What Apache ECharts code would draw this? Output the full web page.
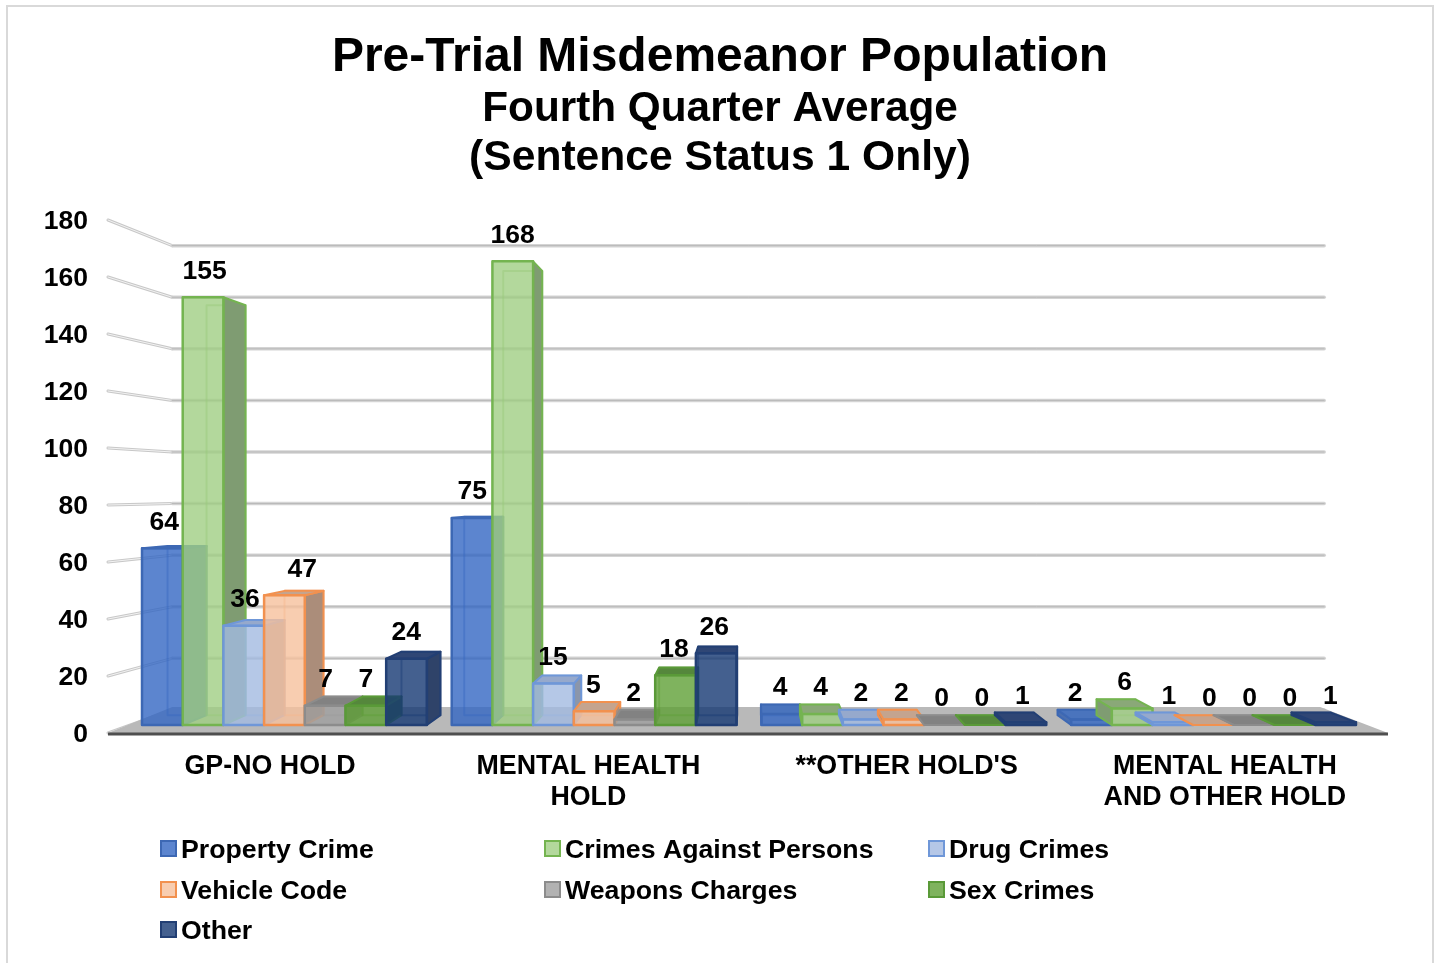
<!DOCTYPE html>
<html>
<head>
<meta charset="utf-8">
<style>html,body{margin:0;padding:0;background:#fff}#c{width:1440px;height:963px}</style>
<script src="https://cdn.jsdelivr.net/npm/echarts@6/dist/echarts.min.js"></script>
</head>
<body>
<div id="c"></div>
<script>
// ---- data ----
const categories = ['GP-NO HOLD', 'MENTAL HEALTH\nHOLD', "**OTHER HOLD'S", 'MENTAL HEALTH\nAND OTHER HOLD'];
const yTicks = [0, 20, 40, 60, 80, 100, 120, 140, 160, 180];
const seriesNames = ['Property Crime', 'Crimes Against Persons', 'Drug Crimes', 'Vehicle Code', 'Weapons Charges', 'Sex Crimes', 'Other'];
const propertyCrime = [64, 75, 4, 2];
const crimesAgainstPersons = [155, 168, 4, 6];
const drugCrimes = [36, 15, 2, 1];
const vehicleCode = [47, 5, 2, 0];
const weaponsCharges = [7, 2, 0, 0];
const sexCrimes = [7, 18, 0, 0];
const other = [24, 26, 1, 1];
const seriesValues = [propertyCrime, crimesAgainstPersons, drugCrimes, vehicleCode, weaponsCharges, sexCrimes, other];

// ---- styles / layout ----
const FONT = '"Liberation Sans", Arial, sans-serif';
const palette = [
  {fill:'rgba(51,102,195,0.8)',  edge:'#3d68b4', side:'#4a6fb0', top:'#4a74bd', key:'#5c85cf'},
  {fill:'rgba(160,206,131,0.8)', edge:'#74b450', side:'#7f9c72', top:'#8aa878', key:'#b3d89c'},
  {fill:'rgba(163,186,225,0.8)', edge:'#6f97d8', side:'#8b96aa', top:'#96a9cc', key:'#b5c7e7'},
  {fill:'rgba(246,192,156,0.8)', edge:'#f2914f', side:'#ab8d7a', top:'#c4a48f', key:'#f8cdb0'},
  {fill:'rgba(159,159,159,0.8)', edge:'#8c8c8c', side:'#808080', top:'#828282', key:'#b2b2b2'},
  {fill:'rgba(95,160,54,0.8)',   edge:'#5a9a38', side:'#4e7a38', top:'#55873c', key:'#7fb35e'},
  {fill:'rgba(21,56,115,0.8)',   edge:'#223f74', side:'#2f4369', top:'#2f4675', key:'#44608f'}
];
const VX = 750, VY = 490;          // vanishing point of the 3-D view
const WALL_X = 0.9, WALL_Y = 0.905, DEPTH = 0.958;
const FLOOR_L = 108, FLOOR_R = 1388, FLOOR_BACK_Y = 707;
const BAR_FRACTION = 0.1314;
const LABEL_FRACTION = 0.131;
const LABEL_GAP = 26;
const LABEL_NUDGE = {'0,3': 17, '3,0': -13, '3,1': -4};
const TICK_DROP = 2;               // value labels sit slightly below the lines they name

const wallX = x => VX + (x - VX) * WALL_X;
const wallY = y => VY + (y - VY) * WALL_Y;
const back = p => [VX + (p[0] - VX) * DEPTH, VY + (p[1] - VY) * DEPTH];

function gridLine(params, api) {
  const y = api.coord([0, api.value(1)])[1] - TICK_DROP;
  const wy = wallY(y), l = wallX(FLOOR_L), r = wallX(FLOOR_R);
  const line = (x1, y1, x2, y2, stroke, w) => ({type:'line', shape:{x1,y1,x2,y2}, style:{stroke, lineWidth:w, lineCap:'round'}});
  return {type:'group', children:[
    line(FLOOR_L, y, l, wy, '#c8c8c8', 3),
    line(FLOOR_L, y, l, wy, '#f2f2f2', 1),
    line(l, wy, r, wy, '#d4d4d4', 3.5),
    line(l, wy, r, wy, '#b8b8b8', 1)
  ]};
}
function floor(params, api) {
  const y = api.coord([0, 0])[1] - TICK_DROP;
  return {type:'group', children:[
    {type:'polygon', shape:{points:[[FLOOR_L,y],[wallX(FLOOR_L),FLOOR_BACK_Y],[wallX(FLOOR_R)-4,FLOOR_BACK_Y],[FLOOR_R,y]]}, style:{fill:'#b9b9b9'}},
    {type:'line', shape:{x1:FLOOR_L,y1:y+1,x2:FLOOR_R,y2:y+1}, style:{stroke:'#4f4f4f', lineWidth:3}}
  ]};
}
function barRenderer(si) {
  return function (params, api) {
    const c = palette[si];
    const top = api.coord([api.value(0), api.value(1)]);
    const base = api.coord([api.value(0), 0]);
    const w = api.size([1, 0])[0] * BAR_FRACTION;
    const x0 = top[0] + (si - 3.5) * w, x1 = x0 + w;
    const fTL = [x0, top[1]], fTR = [x1, top[1]], fBR = [x1, base[1]], fBL = [x0, base[1]];
    const bTL = back(fTL), bTR = back(fTR), bBR = back(fBR), bBL = back(fBL);
    const poly = (pts, fill, stroke, lw, opacity) => ({type:'polygon', shape:{points:pts}, style:{fill, stroke, lineWidth:lw, lineJoin:'round', opacity:opacity === undefined ? 1 : opacity}});
    const kids = [];
    kids.push(poly([bTL,bTR,bBR,bBL], 'rgba(0,0,0,0)', c.edge, 2, 0.45));
    if (bTR[0] > fTR[0]) kids.push(poly([fTR,bTR,bBR,fBR], c.side, c.edge, 2));
    if (bTL[0] < fTL[0]) kids.push(poly([fTL,bTL,bBL,fBL], c.side, c.edge, 2));
    if (bTL[1] < fTL[1]) kids.push(poly([fTL,bTL,bTR,fTR], c.top, c.edge, 2));
    if (fBL[1] - fTL[1] > 0.5) kids.push(poly([fTL,fTR,fBR,fBL], c.fill, c.edge, 2.5));
    return {type:'group', children:kids};
  };
}
function dataLabel(params, api) {
  const cat = api.value(0), v = api.value(1), si = api.value(2);
  const p = api.coord([cat, v]);
  const w = api.size([1, 0])[0] * LABEL_FRACTION;
  const x = p[0] + (si - 3) * w + (LABEL_NUDGE[cat + ',' + si] || 0);
  return {type:'text', style:{text:String(v), x, y:p[1] - LABEL_GAP, textAlign:'center', textVerticalAlign:'middle',
    fontFamily:FONT, fontWeight:'bold', fontSize:26.5, fill:'#000'}};
}

const labelRows = [];
seriesValues.forEach((vals, si) => vals.forEach((v, ci) => labelRows.push([ci, v, si])));

const series = [
  {type:'custom', name:'gridlines', xAxisIndex:0, yAxisIndex:0, silent:true, renderItem:gridLine, data:yTicks.map(t => [0, t])},
  {type:'custom', name:'floor', xAxisIndex:0, yAxisIndex:0, silent:true, renderItem:floor, data:[[0, 0]]}
];
seriesNames.forEach((name, si) => series.push({
  type:'custom', name, xAxisIndex:1, yAxisIndex:1, silent:true, renderItem:barRenderer(si),
  itemStyle:{color:palette[si].key, borderColor:palette[si].edge, borderWidth:2},
  data:seriesValues[si].map((v, ci) => [ci, v])
}));
series.push({type:'custom', name:'labels', xAxisIndex:2, yAxisIndex:2, silent:true, z:10, renderItem:dataLabel, data:labelRows});

const titleLine = (text, size, top) => ({text, left:'center', top, padding:0, textStyle:{fontFamily:FONT, fontWeight:'bold', fontSize:size, color:'#000', lineHeight:size + 2}});

const option = {
  backgroundColor:'#fff',
  animation:false,
  title:[
    titleLine('Pre-Trial Misdemeanor Population', 48, 33),
    titleLine('Fourth Quarter Average', 42.3, 87),
    titleLine('(Sentence Status 1 Only)', 42.6, 136)
  ],
  legend:seriesNames.map((n, i) => ({
    data:[n], left:160 + 384 * (i % 3), top:[833, 874, 914][Math.floor(i / 3)], padding:0,
    icon:'rect', itemWidth:15, itemHeight:15, selectedMode:false,
    itemStyle:{color:palette[i].key, borderColor:palette[i].edge, borderWidth:2},
    formatter:'{a|{name}}',
    textStyle:{rich:{a:{fontFamily:FONT, fontWeight:'bold', fontSize:26.7, color:'#000', lineHeight:26, padding:[4,0,0,0]}}}
  })),
  grid:[
    {left:111, width:1273, top:222, height:513},
    {left:129.6, width:1238.8, top:228.2, height:496.8},
    {left:131.25, width:1232, top:228.2, height:496.8}
  ],
  xAxis:[
    {type:'category', gridIndex:0, data:categories, axisLine:{show:false}, axisTick:{show:false},
      axisLabel:{interval:0, margin:16.5, fontFamily:FONT, fontWeight:'bold', fontSize:26.8, color:'#000', lineHeight:31}},
    {type:'category', gridIndex:1, data:categories, show:false},
    {type:'category', gridIndex:2, data:categories, show:false}
  ],
  yAxis:[
    {type:'value', gridIndex:0, min:0, max:180, interval:20, axisLine:{show:false}, axisTick:{show:false}, splitLine:{show:false},
      axisLabel:{margin:23, fontFamily:FONT, fontWeight:'bold', fontSize:26.5, color:'#000'}},
    {type:'value', gridIndex:1, min:0, max:180, interval:20, show:false, splitLine:{show:false}},
    {type:'value', gridIndex:2, min:0, max:180, interval:20, show:false, splitLine:{show:false}}
  ],
  graphic:[{type:'rect', z:-1, shape:{x:7, y:6, width:1426, height:1000}, style:{fill:'transparent', stroke:'#d9d9d9', lineWidth:2}}],
  series
};
const chart = echarts.init(document.getElementById('c'));
chart.setOption(option);
</script>
</body>
</html>
